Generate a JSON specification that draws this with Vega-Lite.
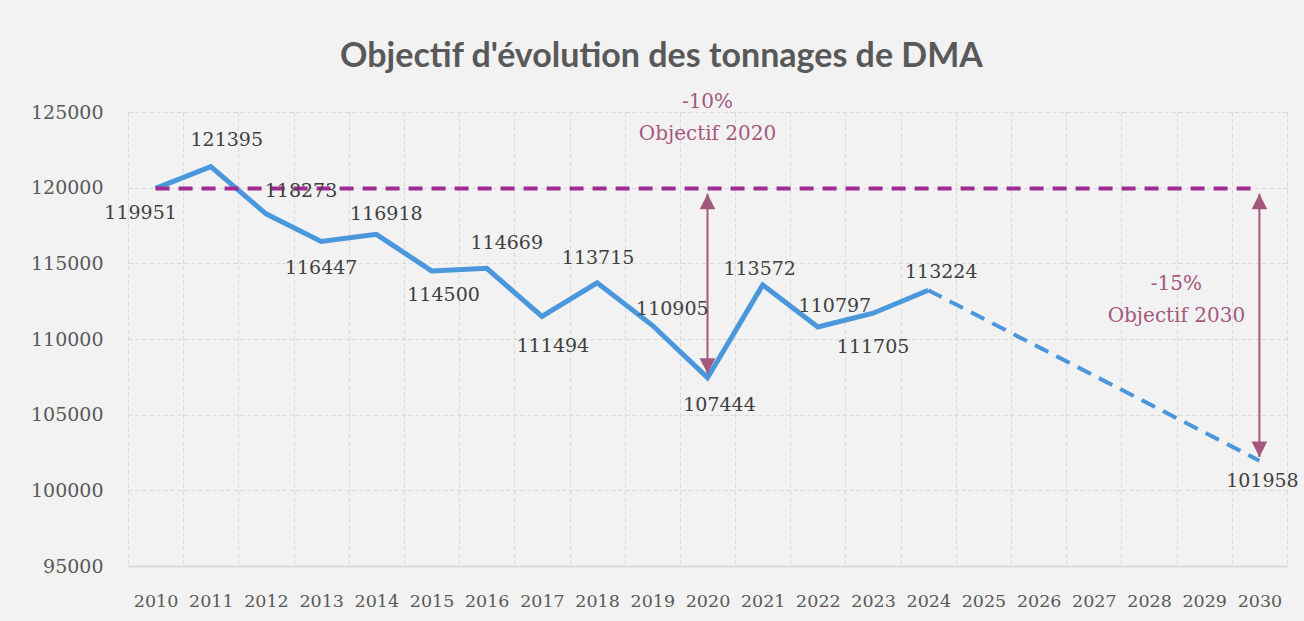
{
  "$schema": "https://vega.github.io/schema/vega-lite/v6.json",
  "autosize": {"type": "none"},
  "width": 1159,
  "height": 454,
  "padding": {"left": 128, "top": 112, "right": 17, "bottom": 55},
  "background": "#f2f2f2",
  "title": {
    "text": "Objectif d'évolution des tonnages de DMA",
    "font": "Lato",
    "fontSize": 34,
    "fontWeight": "bold",
    "color": "#595959",
    "anchor": "middle",
    "baseline": "alphabetic",
    "offset": 44,
    "dx": -46,
    "dy": 53
  },
  "config": {
    "view": {"stroke": null},
    "axis": {
      "labelFont": "DejaVu Serif",
      "labelColor": "#595959",
      "gridColor": "#d9d9d9",
      "gridDash": [4, 3],
      "gridWidth": 1,
      "ticks": false,
      "title": null
    }
  },
  "datasets": {
    "tonnage": [
      {"annee": "2010", "tonnes": 119951},
      {"annee": "2011", "tonnes": 121395},
      {"annee": "2012", "tonnes": 118273},
      {"annee": "2013", "tonnes": 116447},
      {"annee": "2014", "tonnes": 116918},
      {"annee": "2015", "tonnes": 114500},
      {"annee": "2016", "tonnes": 114669},
      {"annee": "2017", "tonnes": 111494},
      {"annee": "2018", "tonnes": 113715},
      {"annee": "2019", "tonnes": 110905},
      {"annee": "2020", "tonnes": 107444},
      {"annee": "2021", "tonnes": 113572},
      {"annee": "2022", "tonnes": 110797},
      {"annee": "2023", "tonnes": 111705},
      {"annee": "2024", "tonnes": 113224}
    ],
    "projection": [
      {"annee": "2024", "tonnes": 113224},
      {"annee": "2030", "tonnes": 101958}
    ],
    "objectif": [
      {"annee": "2010", "tonnes": 119951},
      {"annee": "2030", "tonnes": 119951}
    ],
    "fleches": [
      {"annee": "2020", "haut": 119600, "bas": 107700, "pct": "-10%", "objectif": "Objectif 2020"},
      {"annee": "2030", "haut": 119600, "bas": 102200, "pct": "-15%", "objectif": "Objectif 2030"}
    ]
  },
  "encoding": {
    "x": {
      "field": "annee",
      "type": "ordinal",
      "scale": {
        "type": "band",
        "paddingInner": 0,
        "paddingOuter": 0,
        "domain": ["2010","2011","2012","2013","2014","2015","2016","2017","2018","2019","2020","2021","2022","2023","2024","2025","2026","2027","2028","2029","2030"]
      },
      "axis": {
        "labelAngle": 0,
        "labelFontSize": 17.5,
        "labelPadding": 26,
        "grid": true,
        "tickBand": "extent",
        "domainColor": "#d9d9d9",
        "domainWidth": 2
      }
    }
  },
  "layer": [
    {
      "data": {"name": "tonnage"},
      "mark": {"type": "line", "color": "#4a97dc", "strokeWidth": 5},
      "encoding": {
        "y": {
          "field": "tonnes",
          "type": "quantitative",
          "scale": {"domain": [95000, 125000], "zero": false, "nice": false},
          "axis": {
            "values": [95000, 100000, 105000, 110000, 115000, 120000, 125000],
            "format": "d",
            "domain": false,
            "labelFontSize": 19,
            "labelPadding": 25
          }
        }
      }
    },
    {
      "data": {"name": "projection"},
      "mark": {"type": "line", "color": "#4a97dc", "strokeWidth": 4, "strokeDash": [15, 9]},
      "encoding": {"y": {"field": "tonnes", "type": "quantitative"}}
    },
    {
      "data": {"name": "objectif"},
      "mark": {"type": "line", "color": "#a02b93", "strokeWidth": 4, "strokeDash": [14, 9]},
      "encoding": {"y": {"field": "tonnes", "type": "quantitative"}}
    },
    {
      "data": {"name": "fleches"},
      "layer": [
        {
          "mark": {"type": "rule", "color": "#a5587e", "strokeWidth": 2},
          "encoding": {
            "y": {"field": "haut", "type": "quantitative"},
            "y2": {"field": "bas"}
          }
        },
        {
          "mark": {"type": "point", "filled": true, "color": "#a5587e", "opacity": 1, "size": 380, "shape": "M0,0L-0.8,1.6L0.8,1.6Z"},
          "encoding": {"y": {"field": "haut", "type": "quantitative"}}
        },
        {
          "mark": {"type": "point", "filled": true, "color": "#a5587e", "opacity": 1, "size": 380, "shape": "M0,0L-0.8,-1.6L0.8,-1.6Z"},
          "encoding": {"y": {"field": "bas", "type": "quantitative"}}
        },
        {
          "transform": [{"filter": "datum.annee === '2020'"}, {"calculate": "[datum.pct, datum.objectif]", "as": "etiquette"}],
          "mark": {"type": "text", "font": "DejaVu Serif", "fontSize": 20, "color": "#a5587e", "baseline": "middle", "align": "center", "lineHeight": 32, "dy": -92},
          "encoding": {
            "y": {"field": "haut", "type": "quantitative"},
            "text": {"field": "etiquette"}
          }
        },
        {
          "transform": [{"filter": "datum.annee === '2030'"}, {"calculate": "[datum.pct, datum.objectif]", "as": "etiquette"}],
          "mark": {"type": "text", "font": "DejaVu Serif", "fontSize": 20, "color": "#a5587e", "baseline": "middle", "align": "center", "lineHeight": 32, "dx": -83, "dy": 90},
          "encoding": {
            "y": {"field": "haut", "type": "quantitative"},
            "text": {"field": "etiquette"}
          }
        }
      ]
    },
    {
      "data": {"name": "tonnage"},
      "encoding": {
        "y": {"field": "tonnes", "type": "quantitative"},
        "text": {"field": "tonnes", "type": "quantitative", "format": "d"}
      },
      "layer": [
        {"transform": [{"filter": "datum.annee === '2010'"}], "mark": {"type": "text", "font": "DejaVu Serif", "fontSize": 19, "color": "#404040", "baseline": "middle", "dx": -15, "dy": 25}},
        {"transform": [{"filter": "datum.annee === '2011'"}], "mark": {"type": "text", "font": "DejaVu Serif", "fontSize": 19, "color": "#404040", "baseline": "middle", "dx": 16, "dy": -27}},
        {"transform": [{"filter": "datum.annee === '2012'"}], "mark": {"type": "text", "font": "DejaVu Serif", "fontSize": 19, "color": "#404040", "baseline": "middle", "dx": 35, "dy": -23}},
        {"transform": [{"filter": "datum.annee === '2013'"}], "mark": {"type": "text", "font": "DejaVu Serif", "fontSize": 19, "color": "#404040", "baseline": "middle", "dx": 0, "dy": 27}},
        {"transform": [{"filter": "datum.annee === '2014'"}], "mark": {"type": "text", "font": "DejaVu Serif", "fontSize": 19, "color": "#404040", "baseline": "middle", "dx": 10, "dy": -20}},
        {"transform": [{"filter": "datum.annee === '2015'"}], "mark": {"type": "text", "font": "DejaVu Serif", "fontSize": 19, "color": "#404040", "baseline": "middle", "dx": 12, "dy": 24}},
        {"transform": [{"filter": "datum.annee === '2016'"}], "mark": {"type": "text", "font": "DejaVu Serif", "fontSize": 19, "color": "#404040", "baseline": "middle", "dx": 20, "dy": -25}},
        {"transform": [{"filter": "datum.annee === '2017'"}], "mark": {"type": "text", "font": "DejaVu Serif", "fontSize": 19, "color": "#404040", "baseline": "middle", "dx": 11, "dy": 30}},
        {"transform": [{"filter": "datum.annee === '2018'"}], "mark": {"type": "text", "font": "DejaVu Serif", "fontSize": 19, "color": "#404040", "baseline": "middle", "dx": 1, "dy": -25}},
        {"transform": [{"filter": "datum.annee === '2019'"}], "mark": {"type": "text", "font": "DejaVu Serif", "fontSize": 19, "color": "#404040", "baseline": "middle", "dx": 20, "dy": -16}},
        {"transform": [{"filter": "datum.annee === '2020'"}], "mark": {"type": "text", "font": "DejaVu Serif", "fontSize": 19, "color": "#404040", "baseline": "middle", "dx": 12, "dy": 27}},
        {"transform": [{"filter": "datum.annee === '2021'"}], "mark": {"type": "text", "font": "DejaVu Serif", "fontSize": 19, "color": "#404040", "baseline": "middle", "dx": -3, "dy": -16}},
        {"transform": [{"filter": "datum.annee === '2022'"}], "mark": {"type": "text", "font": "DejaVu Serif", "fontSize": 19, "color": "#404040", "baseline": "middle", "dx": 17, "dy": -21}},
        {"transform": [{"filter": "datum.annee === '2023'"}], "mark": {"type": "text", "font": "DejaVu Serif", "fontSize": 19, "color": "#404040", "baseline": "middle", "dx": 0, "dy": 34}},
        {"transform": [{"filter": "datum.annee === '2024'"}], "mark": {"type": "text", "font": "DejaVu Serif", "fontSize": 19, "color": "#404040", "baseline": "middle", "dx": 13, "dy": -18}}
      ]
    },
    {
      "data": {"name": "projection"},
      "transform": [{"filter": "datum.annee === '2030'"}],
      "mark": {"type": "text", "font": "DejaVu Serif", "fontSize": 19, "color": "#404040", "baseline": "middle", "dx": 3, "dy": 20},
      "encoding": {
        "y": {"field": "tonnes", "type": "quantitative"},
        "text": {"field": "tonnes", "type": "quantitative", "format": "d"}
      }
    }
  ]
}
